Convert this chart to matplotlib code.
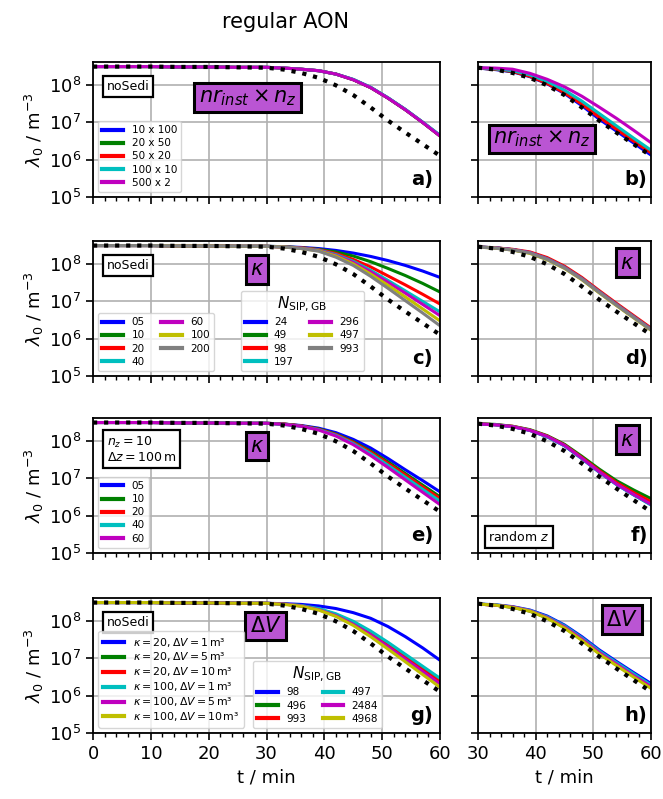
import numpy as np
import matplotlib
matplotlib.use('Agg')
import matplotlib.pyplot as plt
from matplotlib.ticker import MultipleLocator, NullLocator, LogLocator

# time grids (min)
t_left = [0, 5, 10, 15, 20, 25, 30, 33, 36, 39, 42, 45, 48, 51, 54, 57, 60]
t_right = [30, 33, 36, 39, 42, 45, 48, 51, 54, 57, 60]

# log10(lambda_0) before 30 min, common to all runs
lg_flat = [8.48, 8.48, 8.48, 8.47, 8.47, 8.46]

# reference solution (dotted), t = 30 ... 60
ref_lg = [8.45, 8.40, 8.31, 8.18, 7.98, 7.72, 7.39, 7.04, 6.72, 6.41, 6.10]

# a) noSedi, nr_inst x n_z
a_labels = ['10 x 100', '20 x 50', '50 x 20', '100 x 10', '500 x 2']
a_lg = [
    [8.46, 8.44, 8.41, 8.37, 8.28, 8.13, 7.92, 7.64, 7.33, 6.99, 6.63],
    [8.46, 8.44, 8.41, 8.37, 8.28, 8.13, 7.92, 7.64, 7.33, 6.99, 6.63],
    [8.46, 8.44, 8.41, 8.37, 8.28, 8.13, 7.92, 7.64, 7.33, 6.99, 6.63],
    [8.46, 8.44, 8.41, 8.37, 8.28, 8.14, 7.93, 7.65, 7.34, 7.00, 6.65],
    [8.46, 8.44, 8.41, 8.37, 8.28, 8.13, 7.92, 7.64, 7.33, 6.99, 6.63],
]
# b) with sedimentation, nr_inst x n_z
b_lg = [
    [8.44, 8.40, 8.34, 8.21, 8.02, 7.76, 7.44, 7.08, 6.76, 6.44, 6.12],
    [8.44, 8.41, 8.35, 8.23, 8.04, 7.79, 7.49, 7.14, 6.82, 6.50, 6.19],
    [8.44, 8.41, 8.35, 8.22, 8.03, 7.78, 7.48, 7.13, 6.81, 6.49, 6.18],
    [8.45, 8.42, 8.37, 8.26, 8.08, 7.85, 7.56, 7.23, 6.90, 6.57, 6.25],
    [8.45, 8.44, 8.41, 8.30, 8.14, 7.94, 7.69, 7.40, 7.10, 6.78, 6.45],
]

# c) / d) kappa
kappa_labels = ['05', '10', '20', '40', '60', '100', '200']
nsip_cd = ['24', '49', '98', '197', '296', '497', '993']
c_lg = [
    [8.46, 8.45, 8.43, 8.40, 8.35, 8.28, 8.19, 8.08, 7.95, 7.80, 7.63],
    [8.46, 8.45, 8.42, 8.38, 8.31, 8.20, 8.05, 7.87, 7.68, 7.47, 7.24],
    [8.46, 8.44, 8.42, 8.37, 8.27, 8.11, 7.91, 7.67, 7.43, 7.18, 6.92],
    [8.46, 8.44, 8.41, 8.36, 8.24, 8.06, 7.82, 7.55, 7.27, 6.99, 6.71],
    [8.46, 8.44, 8.41, 8.35, 8.22, 8.03, 7.78, 7.50, 7.21, 6.91, 6.61],
    [8.46, 8.44, 8.40, 8.34, 8.20, 7.99, 7.72, 7.42, 7.11, 6.79, 6.47],
    [8.46, 8.44, 8.40, 8.33, 8.17, 7.95, 7.66, 7.34, 7.01, 6.68, 6.34],
]
d_lg = [
    [8.44, 8.42, 8.37, 8.29, 8.13, 7.90, 7.60, 7.25, 6.91, 6.58, 6.25],
    [8.44, 8.42, 8.37, 8.29, 8.13, 7.90, 7.60, 7.25, 6.91, 6.58, 6.25],
    [8.44, 8.42, 8.38, 8.31, 8.16, 7.93, 7.63, 7.28, 6.94, 6.61, 6.28],
    [8.44, 8.42, 8.37, 8.29, 8.13, 7.90, 7.60, 7.25, 6.91, 6.58, 6.25],
    [8.44, 8.42, 8.37, 8.29, 8.12, 7.89, 7.59, 7.24, 6.90, 6.57, 6.24],
    [8.44, 8.41, 8.36, 8.27, 8.10, 7.87, 7.57, 7.22, 6.88, 6.55, 6.22],
    [8.44, 8.41, 8.36, 8.28, 8.11, 7.88, 7.58, 7.23, 6.89, 6.56, 6.23],
]

# e) / f) kappa, n_z = 10
e_labels = ['05', '10', '20', '40', '60']
e_lg = [
    [8.46, 8.44, 8.40, 8.33, 8.21, 8.03, 7.80, 7.52, 7.22, 6.93, 6.63],
    [8.46, 8.44, 8.39, 8.31, 8.17, 7.97, 7.72, 7.43, 7.12, 6.81, 6.50],
    [8.46, 8.44, 8.39, 8.30, 8.16, 7.95, 7.69, 7.39, 7.08, 6.76, 6.45],
    [8.46, 8.43, 8.38, 8.29, 8.14, 7.92, 7.65, 7.34, 7.02, 6.70, 6.38],
    [8.46, 8.43, 8.38, 8.28, 8.12, 7.89, 7.60, 7.28, 6.95, 6.62, 6.29],
]
f_lg = [
    [8.44, 8.42, 8.37, 8.27, 8.10, 7.86, 7.52, 7.16, 6.83, 6.55, 6.29],
    [8.45, 8.43, 8.38, 8.29, 8.13, 7.90, 7.58, 7.24, 6.93, 6.68, 6.45],
    [8.45, 8.42, 8.38, 8.28, 8.12, 7.88, 7.55, 7.20, 6.88, 6.61, 6.37],
    [8.44, 8.42, 8.37, 8.27, 8.10, 7.86, 7.52, 7.16, 6.83, 6.55, 6.28],
    [8.44, 8.42, 8.37, 8.27, 8.11, 7.87, 7.53, 7.17, 6.84, 6.56, 6.30],
]

# g) / h) Delta V
dv_labels = ['$\\kappa = 20, \\Delta V = 1\\,$m³',
             '$\\kappa = 20, \\Delta V = 5\\,$m³',
             '$\\kappa = 20, \\Delta V = 10\\,$m³',
             '$\\kappa = 100, \\Delta V = 1\\,$m³',
             '$\\kappa = 100, \\Delta V = 5\\,$m³',
             '$\\kappa = 100, \\Delta V = 10\\,$m³']
nsip_gh = ['98', '496', '993', '497', '2484', '4968']
g_lg = [
    [8.46, 8.45, 8.43, 8.39, 8.32, 8.21, 8.06, 7.84, 7.57, 7.27, 6.94],
    [8.46, 8.44, 8.40, 8.31, 8.16, 7.95, 7.68, 7.38, 7.06, 6.73, 6.41],
    [8.46, 8.44, 8.39, 8.30, 8.15, 7.93, 7.66, 7.35, 7.02, 6.69, 6.37],
    [8.46, 8.44, 8.40, 8.32, 8.18, 7.98, 7.72, 7.42, 7.10, 6.78, 6.46],
    [8.46, 8.44, 8.39, 8.29, 8.13, 7.90, 7.62, 7.30, 6.97, 6.64, 6.31],
    [8.46, 8.43, 8.38, 8.28, 8.11, 7.87, 7.57, 7.24, 6.90, 6.56, 6.22],
]
h_lg = [
    [8.44, 8.42, 8.37, 8.28, 8.12, 7.88, 7.57, 7.22, 6.91, 6.61, 6.32],
    [8.44, 8.41, 8.35, 8.25, 8.07, 7.81, 7.49, 7.13, 6.82, 6.51, 6.22],
    [8.44, 8.41, 8.36, 8.26, 8.09, 7.84, 7.52, 7.17, 6.86, 6.55, 6.26],
    [8.44, 8.42, 8.36, 8.27, 8.10, 7.86, 7.54, 7.19, 6.88, 6.58, 6.28],
    [8.44, 8.41, 8.36, 8.26, 8.08, 7.83, 7.51, 7.15, 6.84, 6.53, 6.24],
    [8.44, 8.41, 8.35, 8.25, 8.06, 7.80, 7.47, 7.11, 6.80, 6.49, 6.19],
]

colors = ['b', 'g', 'r', 'c', 'm', 'y', 'grey']
purple = 'mediumorchid'

fig = plt.figure(figsize=(6.63, 7.99), dpi=100)
fig.text(0.43, 0.985, 'regular AON', ha='center', va='top', fontsize=15)

rows_bottom = [0.7534, 0.5294, 0.3079, 0.0826]
row_h = 0.169
axL = []
axR = []
for rb in rows_bottom:
    axL.append(fig.add_axes([0.1403, rb, 0.5234, row_h]))
    axR.append(fig.add_axes([0.7210, rb, 0.2609, row_h]))


def style(ax, left, bottom):
    ax.set_yscale('log')
    ax.set_ylim(1e5, 4e8)
    if left:
        ax.set_xlim(0, 60)
    else:
        ax.set_xlim(30, 60)
    ax.xaxis.set_major_locator(MultipleLocator(10))
    ax.xaxis.set_minor_locator(MultipleLocator(2))
    ax.yaxis.set_major_locator(LogLocator(base=10, numticks=10))
    ax.yaxis.set_minor_locator(NullLocator())
    ax.grid(True, which='major', color='#b0b0b0', lw=1.2)
    ax.tick_params(labelsize=13, width=1.2)
    ax.tick_params(which='major', length=5)
    ax.tick_params(which='minor', length=3, width=1)
    for sp in ax.spines.values():
        sp.set_linewidth(1.3)
    if not bottom:
        ax.set_xticklabels([])
    else:
        ax.set_xlabel('t / min', fontsize=13)
    if left:
        ax.set_ylabel(r'$\lambda_0$ / m$^{-3}$', fontsize=13, labelpad=2)
    else:
        ax.set_yticklabels([])


def curves(ax, t, data):
    lines = []
    for i, lg in enumerate(data):
        ln, = ax.plot(t, 10 ** np.array(lg), color=colors[i], lw=2.2)
        lines.append(ln)
    return lines


def reference(ax, t, lg):
    ax.plot(t, 10 ** np.array(lg), color='k', ls=':', lw=3)


def tag(ax, x, y, s):
    ax.text(x, y, s, transform=ax.transAxes, fontsize=15, ha='center',
            va='center',
            bbox=dict(boxstyle='square,pad=0.2', fc=purple, ec='k', lw=2.2))


def note(ax, x, y, s):
    ax.text(x, y, s, transform=ax.transAxes, fontsize=9, ha='left',
            va='center', linespacing=1.15,
            bbox=dict(boxstyle='square,pad=0.3', fc='w', ec='k', lw=1.6))


def panel(ax, s):
    ax.text(0.98, 0.06, s, transform=ax.transAxes, fontsize=14,
            fontweight='bold', ha='right', va='bottom')


def legend_lines(ax, handles, labels, fs=7.5, ls=0.3, **kw):
    leg = ax.legend(handles, labels, fontsize=fs, handlelength=2.0,
                    borderaxespad=0.5, labelspacing=ls, **kw)
    for h in leg.get_lines():
        h.set_linewidth(3)
    return leg


full_ref = lg_flat + ref_lg

# a)
ax = axL[0]
style(ax, True, False)
ln = curves(ax, t_left, [lg_flat + c for c in a_lg])
reference(ax, t_left, full_ref)
legend_lines(ax, ln, a_labels, loc='lower left')
note(ax, 0.04, 0.82, 'noSedi')
tag(ax, 0.445, 0.735, r'$nr_{inst} \times n_z$')
panel(ax, 'a)')

# b)
ax = axR[0]
style(ax, False, False)
curves(ax, t_right, b_lg)
reference(ax, t_right, ref_lg)
tag(ax, 0.37, 0.43, r'$nr_{inst} \times n_z$')
panel(ax, 'b)')

# c)
ax = axL[1]
style(ax, True, False)
ln = curves(ax, t_left, [lg_flat + c for c in c_lg])
reference(ax, t_left, full_ref)
leg1 = legend_lines(ax, ln, kappa_labels, loc='lower left', ncol=2,
                    columnspacing=1.6)
ax.add_artist(leg1)
legend_lines(ax, ln, nsip_cd, loc='lower left', ncol=2,
             bbox_to_anchor=(0.41, 0.0), columnspacing=1.6,
             title=r'$N_\mathrm{SIP,GB}$', title_fontsize=11)
note(ax, 0.04, 0.82, 'noSedi')
tag(ax, 0.473, 0.79, r'$\kappa$')
panel(ax, 'c)')

# d)
ax = axR[1]
style(ax, False, False)
curves(ax, t_right, d_lg)
reference(ax, t_right, ref_lg)
tag(ax, 0.864, 0.84, r'$\kappa$')
panel(ax, 'd)')

# e)
ax = axL[2]
style(ax, True, False)
ln = curves(ax, t_left, [lg_flat + c for c in e_lg])
reference(ax, t_left, full_ref)
legend_lines(ax, ln, e_labels, loc='lower left')
note(ax, 0.04, 0.765, '$n_z = 10$\n$\\Delta z = 100\\,$m')
tag(ax, 0.473, 0.79, r'$\kappa$')
panel(ax, 'e)')

# f)
ax = axR[2]
style(ax, False, False)
curves(ax, t_right, f_lg)
reference(ax, t_right, ref_lg)
tag(ax, 0.864, 0.84, r'$\kappa$')
note(ax, 0.06, 0.12, 'random $z$')
panel(ax, 'f)')

# g)
ax = axL[3]
style(ax, True, True)
ln = curves(ax, t_left, [lg_flat + c for c in g_lg])
reference(ax, t_left, full_ref)
leg1 = legend_lines(ax, ln, dv_labels, fs=7.8, ls=0.18, loc='lower left')
ax.add_artist(leg1)
legend_lines(ax, ln, nsip_gh, loc='lower left', ncol=2,
             bbox_to_anchor=(0.445, 0.0), columnspacing=1.6,
             title=r'$N_\mathrm{SIP,GB}$', title_fontsize=11)
note(ax, 0.04, 0.82, 'noSedi')
tag(ax, 0.497, 0.79, r'$\Delta V$')
panel(ax, 'g)')

# h)
ax = axR[3]
style(ax, False, True)
curves(ax, t_right, h_lg)
reference(ax, t_right, ref_lg)
tag(ax, 0.83, 0.84, r'$\Delta V$')
panel(ax, 'h)')

fig.savefig('out.png', dpi=100)
